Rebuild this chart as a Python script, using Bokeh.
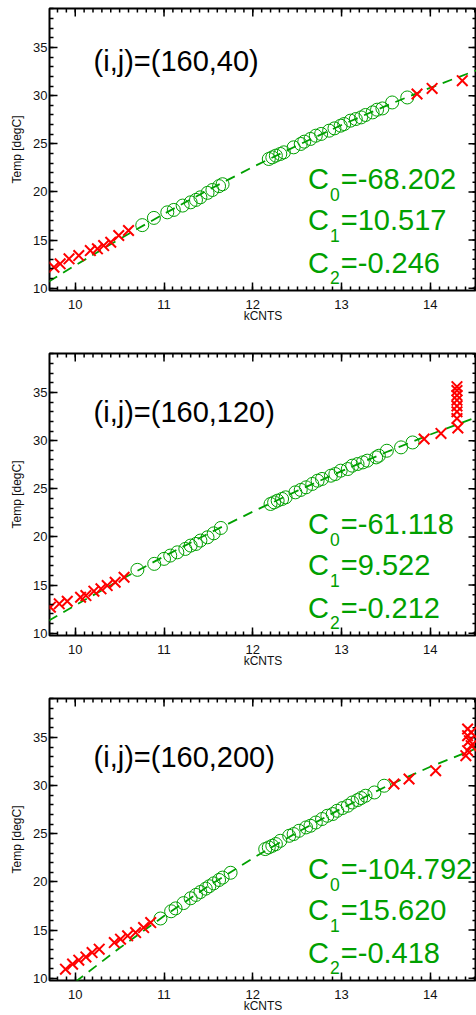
import math
from bokeh.plotting import figure
from bokeh.models import Range1d, FixedTicker
from bokeh.core.properties import value
from bokeh.layouts import column
from bokeh.embed import file_html
from bokeh.resources import INLINE

GREEN = "#00A000"
RED = "#FF0000"
FONT = "Liberation Sans"

# ---------------- data ----------------
x_ticks = [10, 11, 12, 13, 14]
y_ticks = [10, 15, 20, 25, 30, 35]

titles = ["(i,j)=(160,40)", "(i,j)=(160,120)", "(i,j)=(160,200)"]
coef_text = [["=-68.202", "=10.517", "=-0.246"],
             ["=-61.118", "=9.522", "=-0.212"],
             ["=-104.792", "=15.620", "=-0.418"]]

# fitted curve
fit_x = [9.7, 10.0, 10.5, 11.0, 11.5, 12.0, 12.5, 13.0, 13.5, 14.0, 14.6]
fit1_y = [10.67, 12.37, 15.11, 17.72, 20.21, 22.58, 24.82, 26.95, 28.94, 30.82, 32.91]
fit2_y = [11.30, 12.90, 15.49, 17.97, 20.35, 22.62, 24.78, 26.84, 28.79, 30.64, 32.71]
fit3_y = [7.39, 9.61, 13.13, 16.45, 19.56, 22.46, 25.15, 27.63, 29.90, 31.96, 34.16]

# panel 1
p1_circ_x = [10.755, 10.886, 11.037, 11.11, 11.21, 11.30, 11.36, 11.41, 11.49, 11.545, 11.62, 11.66,
             12.18, 12.22, 12.26, 12.31, 12.35, 12.46, 12.54, 12.58, 12.65, 12.71, 12.77, 12.86,
             12.92, 12.99, 13.03, 13.10, 13.16, 13.22, 13.27, 13.35, 13.40, 13.46, 13.57, 13.74]
p1_circ_y = [16.55, 17.30, 17.88, 18.13, 18.58, 18.92, 19.17, 19.44, 19.90, 20.20, 20.60, 20.80,
             23.42, 23.59, 23.77, 23.94, 24.11, 24.63, 24.98, 25.22, 25.50, 25.84, 26.02, 26.36,
             26.60, 26.88, 27.05, 27.40, 27.57, 27.74, 27.99, 28.26, 28.54, 28.67, 29.29, 29.81]
p1_x_x = [9.76, 9.83, 9.93, 10.04, 10.17, 10.25, 10.32, 10.40, 10.49, 10.60, 13.85, 14.02, 14.36]
p1_x_y = [12.18, 12.53, 13.05, 13.39, 13.91, 14.09, 14.43, 14.77, 15.47, 15.99, 30.17, 30.75, 31.55]

# panel 2
p2_circ_x = [10.70, 10.89, 11.00, 11.07, 11.15, 11.24, 11.30, 11.36, 11.41, 11.49, 11.56, 11.64,
             12.20, 12.24, 12.28, 12.33, 12.37, 12.48, 12.54, 12.60, 12.67, 12.73, 12.78, 12.88,
             12.93, 12.99, 13.07, 13.12, 13.18, 13.24, 13.29, 13.39, 13.42, 13.51, 13.67, 13.80]
p2_circ_y = [16.58, 17.20, 17.72, 18.06, 18.40, 18.75, 19.10, 19.27, 19.62, 19.96, 20.37, 20.93,
             23.42, 23.59, 23.77, 23.94, 24.11, 24.63, 24.88, 25.15, 25.50, 25.84, 26.02, 26.36,
             26.53, 26.88, 27.05, 27.40, 27.57, 27.74, 27.92, 28.26, 28.43, 28.95, 29.30, 29.81]
p2_x_x = [9.72, 9.82, 9.91, 10.06, 10.12, 10.21, 10.29, 10.36, 10.45, 10.55,
          13.93, 14.12, 14.31, 14.30, 14.30, 14.30, 14.30, 14.30, 14.30, 14.30]
p2_x_y = [12.70, 13.05, 13.32, 13.73, 13.91, 14.36, 14.61, 14.95, 15.29, 15.81,
          30.17, 30.75, 31.31, 32.3, 33.0, 33.6, 34.2, 34.7, 35.2, 35.6]

# panel 3
p3_circ_x = [10.96, 11.08, 11.13, 11.22, 11.30, 11.36, 11.41, 11.47, 11.51, 11.56, 11.62, 11.66, 11.75,
             12.14, 12.18, 12.22, 12.26, 12.31, 12.41, 12.46, 12.52, 12.60, 12.65, 12.71, 12.78,
             12.84, 12.90, 12.95, 13.01, 13.07, 13.12, 13.18, 13.22, 13.27, 13.37, 13.48]
p3_circ_y = [16.2, 16.95, 17.25, 17.8, 18.3, 18.65, 18.95, 19.3, 19.55, 19.85, 20.2, 20.45, 20.95,
             23.41, 23.58, 23.75, 23.93, 24.27, 24.79, 24.97, 25.31, 25.66, 25.83, 26.17, 26.53,
             26.87, 27.05, 27.39, 27.67, 27.91, 28.25, 28.50, 28.71, 28.95, 29.29, 29.99]
p3_x_x = [9.89, 9.97, 10.04, 10.12, 10.19, 10.27, 10.44, 10.51, 10.59, 10.68, 10.77, 10.85,
          13.59, 13.76, 14.06, 14.40, 14.42, 14.46, 14.44, 14.42, 14.46, 14.42]
p3_x_y = [10.94, 11.46, 11.87, 12.21, 12.66, 13.01, 13.70, 14.05, 14.40, 14.74, 15.26, 15.78,
          30.17, 30.69, 31.55, 33.11, 33.63, 34.15, 34.67, 35.19, 35.53, 35.88]

panels = [
    (fit1_y, p1_circ_x, p1_circ_y, p1_x_x, p1_x_y),
    (fit2_y, p2_circ_x, p2_circ_y, p2_x_x, p2_x_y),
    (fit3_y, p3_circ_x, p3_circ_y, p3_x_x, p3_x_y),
]

x_minor = [round(9.7 + 0.1 * i, 1) for i in range(0, 50)]
y_minor = list(range(9, 40))

X0, X1 = 9.71, 14.52
Y0, Y1 = 9.76, 39.05
title_y = [33.59, 32.94, 32.94]
coef_y = [21.3, 17.05, 12.6]
TX, CX = 10.206, 12.623


def style_axis(ax, ticks, minor):
    ax.ticker = FixedTicker(ticks=ticks, minor_ticks=minor)
    ax.major_tick_in = 8
    ax.major_tick_out = 0
    ax.minor_tick_in = 4
    ax.minor_tick_out = 0
    ax.major_tick_line_width = 1.5
    ax.minor_tick_line_width = 1.5
    ax.major_tick_line_color = "black"
    ax.minor_tick_line_color = "black"
    ax.axis_line_color = None
    ax.major_label_text_font = FONT
    ax.major_label_text_font_size = "13px"
    ax.major_label_text_color = "#111111"
    ax.axis_label_text_font = FONT
    ax.axis_label_text_font_size = "12px"
    ax.axis_label_text_font_style = "normal"
    ax.axis_label_text_color = "#111111"


def txt(p, x, y, s, size, color, xoff=0):
    p.text(x=[x], y=[y], text=[s], x_offset=xoff, text_font=value(FONT),
           text_font_size=value(size), text_color=color, text_baseline="alphabetic",
           text_align="left")


figs = []
for i, (fy, cx, cy, xx, xy) in enumerate(panels):
    last = i == 2
    h = 325 if last else 345
    p = figure(width=476, height=h, x_range=Range1d(X0, X1), y_range=Range1d(Y0, Y1),
               output_backend="svg", toolbar_location=None,
               min_border_left=49, min_border_right=0, min_border_top=8,
               min_border_bottom=h - 290)
    p.grid.visible = False
    p.outline_line_color = "black"
    p.outline_line_width = 2
    p.background_fill_color = "white"
    p.border_fill_color = "white"

    style_axis(p.xaxis[0], x_ticks, x_minor)
    style_axis(p.yaxis[0], y_ticks, y_minor)
    p.xaxis[0].major_label_standoff = 9
    p.yaxis[0].major_label_standoff = 2
    p.xaxis[0].axis_label = "kCNTS"
    p.yaxis[0].axis_label = "Temp [degC]"
    p.xaxis[0].axis_label_standoff = -3
    p.yaxis[0].axis_label_standoff = 6

    # inward ticks on the top and right edges (half of each dash is clipped by the frame)
    p.scatter(x_ticks, [Y1] * len(x_ticks), marker="dash", angle=math.pi / 2, size=16,
              line_color="black", line_width=1.5)
    p.scatter(x_minor, [Y1] * len(x_minor), marker="dash", angle=math.pi / 2, size=8,
              line_color="black", line_width=1.5)
    p.scatter([X1] * len(y_ticks), y_ticks, marker="dash", size=16,
              line_color="black", line_width=1.5)
    p.scatter([X1] * len(y_minor), y_minor, marker="dash", size=8,
              line_color="black", line_width=1.5)

    p.line(fit_x, fy, line_color=GREEN, line_width=1.8, line_dash="10 7")
    p.scatter(cx, cy, marker="circle", size=13, fill_color=None, line_color=GREEN, line_width=1)
    p.scatter(xx, xy, marker="x", size=15, line_color=RED, line_width=2)

    txt(p, TX, title_y[i], titles[i], "29px", "black")
    for k in range(3):
        txt(p, CX, coef_y[k], "C", "29px", GREEN)
        txt(p, CX, coef_y[k] - 1.53, str(k), "17.5px", GREEN, 22)
        txt(p, CX, coef_y[k], coef_text[i][k], "29px", GREEN, 32.7)
    figs.append(p)

layout = column(*figs)
open("out.html", "w").write(file_html(layout, INLINE))
